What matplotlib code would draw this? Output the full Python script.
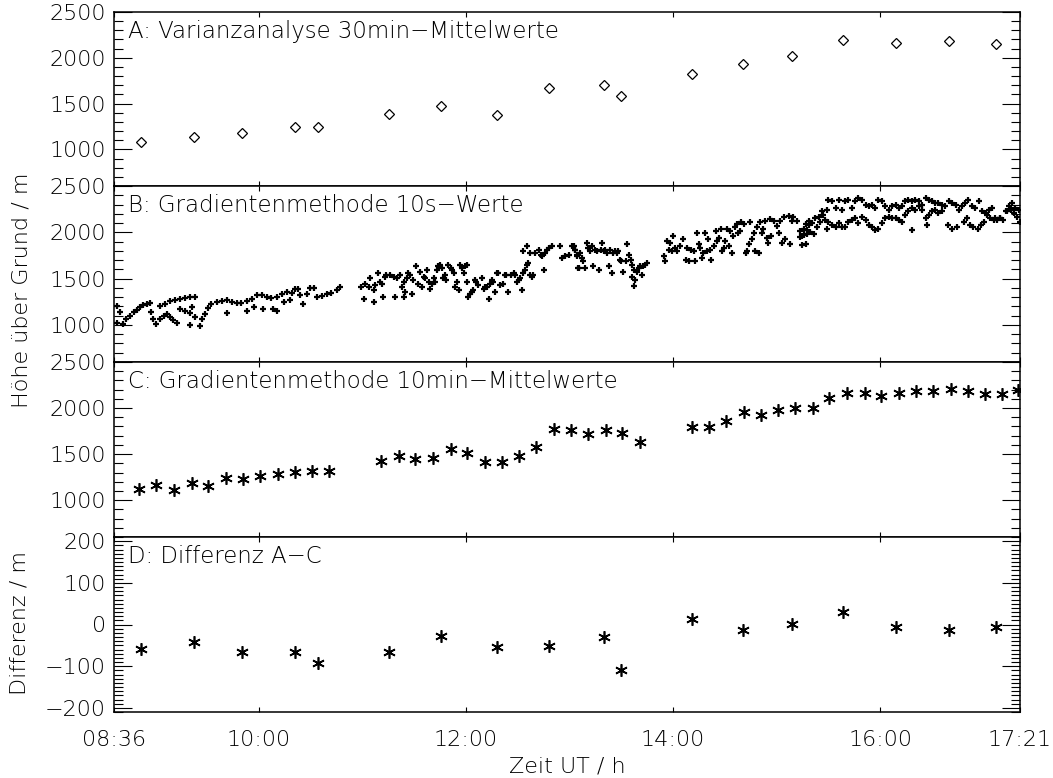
import numpy as np
import matplotlib.pyplot as plt
from matplotlib.ticker import MultipleLocator, FixedLocator, NullLocator

plt.rcParams['font.family'] = ['DejaVu Sans']
plt.rcParams['font.size'] = 16
plt.rcParams['font.weight'] = 'light'

# --- A: variance analysis, 30 min means ---
a_time = [8.86, 9.37, 9.84, 10.35, 10.57, 11.26, 11.76, 12.30, 12.80,
          13.33, 13.50, 14.18, 14.67, 15.15, 15.64, 16.15, 16.66, 17.12]
a_height = [1076, 1130, 1177, 1239, 1239, 1391, 1478, 1370, 1674,
            1707, 1587, 1826, 1935, 2022, 2196, 2163, 2185, 2152]

# --- B: gradient method, 10 s values ---
b_time = [
    # 08:36 - 10:50
    8.63, 8.63, 8.66, 8.69, 8.72, 8.75, 8.79, 8.82, 8.85, 8.88, 8.92, 8.95, 8.96, 8.98,
    9.01, 9.04, 9.08, 9.11, 9.14, 9.17, 9.21, 9.04, 9.09, 9.14, 9.19, 9.24, 9.29, 9.33,
    9.38, 9.24, 9.29, 9.33, 9.35, 9.33, 9.38, 9.43, 9.45, 9.48, 9.51, 9.54, 9.59, 9.64,
    9.69, 9.74, 9.79, 9.83, 9.88, 9.93, 9.98, 9.69, 9.88, 9.95, 10.03, 10.08, 10.12,
    10.17, 10.22, 10.27, 10.32, 10.35, 10.04, 10.14, 10.17, 10.24, 10.30, 10.38, 10.40,
    10.43, 10.46, 10.49, 10.53, 10.56, 10.61, 10.66, 10.70, 10.75, 10.78,
    # 11:00 - 13:50
    10.99, 11.01, 11.02, 11.06, 11.07, 11.11, 11.11, 11.12, 11.15, 11.17, 11.19, 11.20,
    11.22, 11.23, 11.27, 11.30, 11.31, 11.33, 11.36, 11.38, 11.40, 11.40, 11.41, 11.43,
    11.44, 11.46, 11.48, 11.49, 11.52, 11.54, 11.56, 11.57, 11.59, 11.60, 11.62, 11.64,
    11.65, 11.67, 11.69, 11.70, 11.72, 11.73, 11.75, 11.77, 11.78, 11.80, 11.81, 11.83,
    11.85, 11.86, 11.88, 11.89, 11.91, 11.93, 11.94, 11.96, 11.98, 11.99, 12.01, 12.01,
    12.02, 12.04, 12.06, 12.07, 12.09, 12.10, 12.12, 12.15, 12.17, 12.18, 12.20, 12.22,
    12.23, 12.25, 12.26, 12.28, 12.30, 12.31, 12.33, 12.36, 12.38, 12.39, 12.41, 12.43,
    12.46, 12.47, 12.49, 12.51, 12.52, 12.54, 12.55, 12.57, 12.59, 12.60, 12.62, 12.64,
    12.65, 12.55, 12.59, 12.62, 12.67, 12.70, 12.72, 12.73, 12.75, 12.76, 12.78, 12.80,
    12.83, 12.91, 12.93, 12.96, 12.99, 13.02, 13.05, 13.07, 13.08,
    13.04, 13.05, 13.07, 13.09, 13.10, 13.12, 13.13, 13.15, 13.17, 13.18, 13.20, 13.22,
    13.23, 13.25, 13.26, 13.28, 13.30, 13.31, 13.33, 13.34, 13.36, 13.38, 13.39, 13.41,
    13.42, 13.44, 13.46, 13.47, 13.49, 13.50, 13.52, 13.54, 13.55, 13.57, 13.59, 13.60,
    13.60, 13.62, 13.63, 13.62, 13.65, 13.67, 13.68, 13.70, 13.71, 13.73, 13.75,
    # 13:54 - 17:21
    13.91, 13.92, 13.94, 13.96, 13.97, 13.99, 14.00, 14.02, 14.04, 14.07, 14.10, 14.12,
    14.13, 14.15, 14.17, 14.20, 14.21, 14.23, 14.25, 14.26, 14.28, 14.29, 14.31, 14.33,
    14.34, 14.36, 14.37, 14.39, 14.41, 14.42, 14.44, 14.46, 14.47, 14.49, 14.50, 14.52,
    14.54, 14.55, 14.57, 14.58, 14.60, 14.62, 14.63, 14.65, 14.66, 14.68, 14.70, 14.71,
    14.73, 14.74, 14.76, 14.78, 14.79, 14.81, 14.83, 14.84, 14.86, 14.87, 14.89, 14.91,
    14.92, 14.94, 14.95, 14.97, 15.00, 15.02, 15.03, 15.05, 15.07, 15.08, 15.12, 15.13,
    15.15, 15.16, 15.20, 15.23, 15.24, 15.26, 15.28, 15.29, 15.31,
    15.23, 15.24, 15.26, 15.28, 15.29, 15.31, 15.32, 15.34, 15.36, 15.37, 15.39, 15.41,
    15.42, 15.44, 15.45, 15.47, 15.49, 15.49,
    15.50, 15.53, 15.57, 15.60, 15.63, 15.66, 15.69, 15.73, 15.76, 15.79, 15.82, 15.86,
    15.89, 15.92, 15.95, 15.98, 16.02, 16.05, 16.08, 16.11, 16.15, 16.18, 16.21, 16.24,
    16.27, 16.31, 16.34, 16.37, 16.40, 16.44, 16.47, 16.50, 16.53, 16.56, 16.60, 16.63,
    16.66, 16.69, 16.73, 16.76, 16.79, 16.82, 16.85, 16.89, 16.92, 16.95, 16.98, 17.02,
    17.05, 17.08, 17.11, 17.16, 17.21, 17.24, 17.27, 17.30, 17.34,
    15.50, 15.53, 15.57, 15.60, 15.63, 15.66, 15.69, 15.73, 15.76, 15.79, 15.82, 15.86,
    15.89, 15.92, 15.95, 15.98, 16.02, 16.05, 16.08, 16.11, 16.15, 16.18, 16.21, 16.24,
    16.27, 16.31, 16.34, 16.37, 16.40, 16.44, 16.47, 16.50, 16.53, 16.56, 16.60, 16.65,
    16.69, 16.74, 16.81, 16.84, 16.87, 16.90, 16.94, 16.97, 17.00, 17.03, 17.06, 17.10,
    17.13, 17.16, 17.19, 17.22, 17.26, 17.29, 17.32, 17.35, 16.31, 16.45,
]
b_height = [
    1209, 1026, 1136, 1007, 1062, 1099, 1136, 1161, 1198, 1220, 1227, 1235, 1136, 1062,
    1007, 1062, 1099, 1117, 1081, 1051, 1026, 1209, 1227, 1257, 1264, 1282, 1293, 1301,
    1301, 1172, 1154, 1125, 1191, 1000, 1081, 989, 1062, 1117, 1183, 1227, 1246, 1257,
    1264, 1253, 1242, 1235, 1257, 1282, 1319, 1125, 1154, 1191, 1319, 1301, 1293,
    1301, 1337, 1356, 1345, 1392, 1172, 1172, 1154, 1246, 1264, 1392, 1319,
    1227, 1337, 1403, 1403, 1301, 1308, 1330, 1345, 1381, 1411,
    1410, 1280, 1447, 1410, 1502, 1374, 1246, 1429, 1557, 1466, 1447, 1301,
    1521, 1539, 1539, 1521, 1301, 1502, 1539, 1410, 1466, 1301, 1356, 1502,
    1557, 1539, 1337, 1484, 1631, 1447, 1576, 1410, 1521, 1502, 1594, 1466,
    1392, 1447, 1502, 1466, 1594, 1631, 1649, 1612, 1502, 1539, 1484, 1649,
    1612, 1594, 1557, 1410, 1466, 1374, 1649, 1612, 1557, 1631, 1649, 1466,
    1301, 1337, 1356, 1374, 1484, 1466, 1429, 1502, 1392, 1410, 1410, 1282,
    1447, 1484, 1466, 1356, 1557, 1557, 1429, 1447, 1539, 1539, 1356, 1539,
    1557, 1539, 1466, 1484, 1502, 1374, 1557, 1594, 1649, 1667, 1539, 1521,
    1539, 1796, 1851, 1777, 1777, 1814, 1759, 1741, 1594, 1777, 1814, 1832,
    1851, 1851, 1722, 1741, 1759, 1851, 1814, 1741, 1612,
    1851, 1814, 1759, 1612, 1777, 1722, 1686, 1612, 1887, 1832, 1796, 1851,
    1631, 1814, 1796, 1594, 1814, 1887, 1796, 1814, 1777, 1631, 1814, 1557,
    1777, 1796, 1777, 1796, 1704, 1686, 1576, 1686, 1869, 1759, 1704, 1649,
    1521, 1594, 1484, 1418, 1576, 1612, 1631, 1539, 1631, 1649, 1667,
    1741, 1686, 1906, 1814, 1887, 1796, 1961, 1832, 1796, 1851, 1924, 1704,
    1832, 1686, 1814, 1796, 1686, 1997, 1869, 1832, 1722, 1777, 1997, 1796,
    1924, 1814, 1704, 1851, 2016, 1906, 1942, 2034, 1796, 1832, 1906, 2034,
    1851, 2016, 1777, 1961, 2052, 2089, 1997, 2016, 2107, 2089, 1777, 1796,
    1869, 2107, 1924, 1997, 1796, 2052, 1777, 2107, 1997, 2034, 2126, 1942,
    1887, 2144, 1961, 2126, 2071, 1997, 2126, 1887, 2162, 1924, 2181, 1869,
    2126, 2162, 2126, 2016, 1961, 2034, 2089, 1979, 2126,
    1950, 1858, 1968, 1876, 2023, 2078, 2005, 2096, 1986, 2151, 2060, 2170,
    2115, 2225, 2188, 2133, 2243, 2041,
    2353, 2335, 2261, 2353, 2243, 2335, 2353, 2261, 2335, 2371, 2353, 2298,
    2280, 2298, 2261, 2353, 2335, 2280, 2243, 2280, 2298, 2261, 2280, 2335,
    2353, 2335, 2353, 2335, 2298, 2371, 2353, 2335, 2316, 2316, 2298, 2280,
    2335, 2316, 2298, 2243, 2280, 2316, 2353, 2280, 2261, 2335, 2225, 2206,
    2243, 2261, 2151, 2151, 2225, 2280, 2316, 2261, 2243,
    2115, 2078, 2060, 2096, 2060, 2060, 2115, 2133, 2151, 2096, 2170, 2133,
    2078, 2060, 2023, 2041, 2096, 2151, 2170, 2151, 2151, 2133, 2115, 2188,
    2225, 2261, 2243, 2280, 2243, 2151, 2188, 2225, 2243, 2206, 2225, 2078,
    2041, 2060, 2115, 2151, 2078, 2060, 2041, 2078, 2115, 2188, 2151, 2133,
    2133, 2151, 2133, 2225, 2243, 2206, 2170, 2115, 2023, 2078,
]

# --- C: gradient method, 10 min means ---
c_time = [8.84, 9.01, 9.18, 9.35, 9.51, 9.68, 9.85, 10.01, 10.18, 10.35, 10.51, 10.68,
          11.18, 11.35, 11.51, 11.68, 11.85, 12.01, 12.18, 12.35, 12.51, 12.68, 12.85,
          13.01, 13.18, 13.35, 13.51, 13.68,
          14.18, 14.35, 14.51, 14.68, 14.85, 15.01, 15.18, 15.35, 15.51, 15.68, 15.85,
          16.01, 16.18, 16.35, 16.51, 16.68, 16.85, 17.01, 17.18, 17.33]
c_height = [1118, 1161, 1108, 1183, 1150, 1237, 1226, 1258, 1280, 1301, 1312, 1312,
            1430, 1484, 1452, 1462, 1559, 1516, 1419, 1419, 1484, 1580, 1774,
            1763, 1720, 1763, 1731, 1634,
            1796, 1796, 1860, 1957, 1925, 1979, 2000, 2000, 2107, 2161, 2161,
            2129, 2161, 2183, 2183, 2204, 2183, 2150, 2150, 2193]

# --- D: difference A-C ---
d_diff = [-58, -43, -67, -67, -92, -65, -27, -55, -51,
          -29, -108, 14, -12, 2, 31, -5, -12, -7]

xticks = [8.6, 10.0, 12.0, 14.0, 16.0, 17.35]
xticklabels = ['08:36', '10:00', '12:00', '14:00', '16:00', '17:21']
titles = ['A: Varianzanalyse 30min\u2212Mittelwerte',
          'B: Gradientenmethode 10s\u2212Werte',
          'C: Gradientenmethode 10min\u2212Mittelwerte',
          'D: Differenz A\u2212C']

fig = plt.figure(figsize=(10.53, 7.78), dpi=100)
left, width = 114 / 1053, 906 / 1053
tops = [12, 186, 362, 537, 712]
axes = []
for i in range(4):
    bottom = 1 - tops[i + 1] / 778
    height = (tops[i + 1] - tops[i]) / 778
    axes.append(fig.add_axes([left, bottom, width, height]))

axA, axB, axC, axD = axes
axA.plot(a_time, a_height, ls='none', marker='D', ms=5.6, mfc='none', mec='black', mew=0.9)
axB.plot(b_time, b_height, ls='none', marker='+', ms=5.0, mec='black', mew=1.6)
axC.plot(c_time, c_height, ls='none', marker=(6, 2, 0), ms=9, mec='black', mew=1.2)
axD.plot(a_time, d_diff, ls='none', marker=(6, 2, 0), ms=9, mec='black', mew=1.2)

for i, ax in enumerate(axes):
    ax.set_xlim(8.6, 17.35)
    ax.xaxis.set_major_locator(FixedLocator(xticks))
    ax.xaxis.set_minor_locator(NullLocator())
    if i < 3:
        ax.set_ylim(600, 2500)
        ax.set_yticks([1000, 1500, 2000, 2500])
        ax.yaxis.set_minor_locator(MultipleLocator(100))
        ax.set_xticklabels([])
    else:
        ax.set_ylim(-210, 210)
        ax.set_yticks([-200, -100, 0, 100, 200])
        ax.yaxis.set_minor_locator(MultipleLocator(10))
        ax.set_xticklabels(xticklabels)
    ax.tick_params(axis='both', which='both', direction='in', top=True, right=True,
                   width=0.8, colors='black', labelsize=16)
    ax.tick_params(axis='y', which='major', length=13, pad=6)
    ax.tick_params(axis='y', which='minor', length=6.5)
    ax.tick_params(axis='x', which='major', length=3.6, pad=13)
    for sp in ax.spines.values():
        sp.set_linewidth(1.1)
    ax.text(0.0155, 0.955, titles[i], transform=ax.transAxes, ha='left', va='top',
            fontsize=16.5, color='black')

fig.text(567 / 1053, 1 - 767 / 778, 'Zeit UT / h', ha='center', va='center',
         fontsize=16, color='black')
fig.text(22 / 1053, 1 - 290 / 778, 'H\u00f6he \u00fcber Grund / m', ha='center', va='center',
         rotation=90, fontsize=16, color='black')
fig.text(20 / 1053, 1 - 623 / 778, 'Differenz / m', ha='center', va='center',
         rotation=90, fontsize=16, color='black')

fig.savefig('out.png', dpi=100)
plt.close(fig)
